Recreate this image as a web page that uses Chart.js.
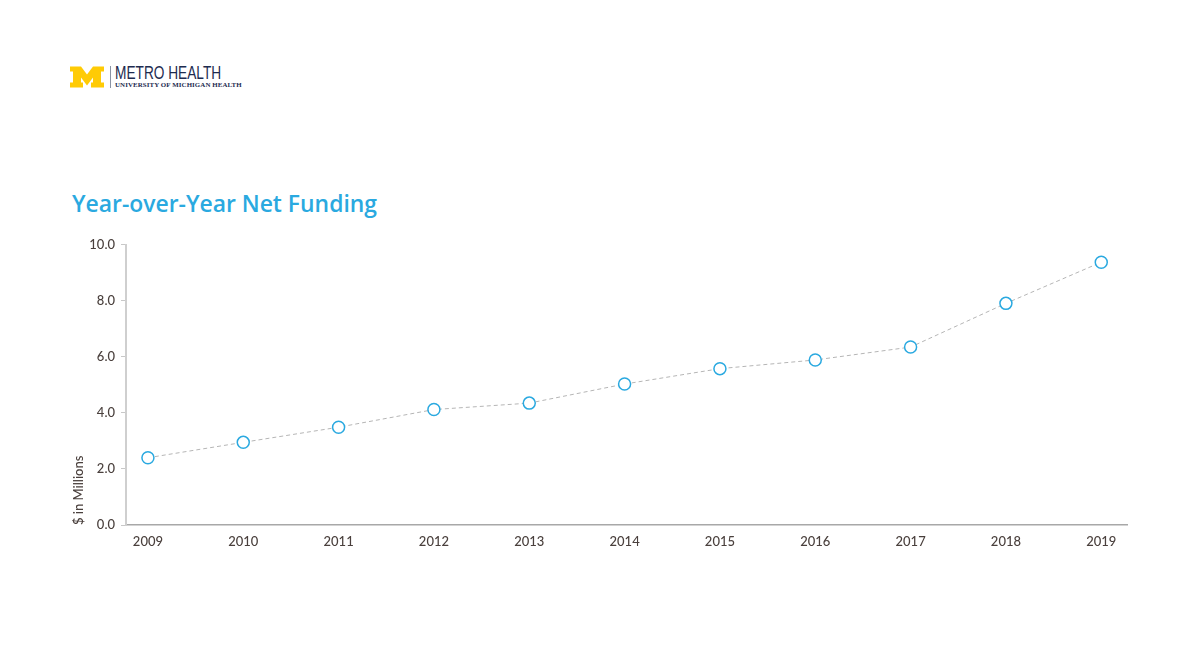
<!DOCTYPE html>
<html>
<head>
<meta charset="utf-8">
<title>Year-over-Year Net Funding</title>
<script src="https://cdn.jsdelivr.net/npm/chart.js@4.4.1/dist/chart.umd.min.js"></script>
<style>
    html, body { margin: 0; padding: 0; background: #fff; }
    body { width: 1200px; height: 659px; position: relative; overflow: hidden; font-family: Lato, "Open Sans", sans-serif; }
    .logo { position: absolute; left: 70px; top: 66px; height: 22px; }
    .logo svg { position: absolute; left: 0; top: 0; }
    .logo .bar { position: absolute; left: 40px; top: 0; width: 1px; height: 22px; background: #8a93a3; }
    .logo .name { position: absolute; left: 45px; top: -3px; font-family: "Liberation Sans", Arial, sans-serif; font-size: 18px; color: #1d2b4f; white-space: nowrap; transform: scaleX(0.76); transform-origin: left top; }
    .logo .sub { position: absolute; left: 45px; top: 15px; font-family: "Liberation Serif", serif; font-weight: bold; font-size: 6.9px; color: #1d2b4f; white-space: nowrap; letter-spacing: 0.1px; }
    h1 { position: absolute; left: 72px; top: 188px; margin: 0; font-family: "Open Sans", sans-serif; font-size: 22.9px; font-weight: 600; color: #2aa9e0; white-space: nowrap; }
    .chart-box { position: absolute; left: 60px; top: 231px; width: 1080px; height: 328px; }
</style>
</head>
<body>
<div class="logo">
    <svg width="34" height="22" viewBox="0 0 34 21">
        <polygon fill="#ffcb05" points="0,0 11,0 17,8 23,0 34,0 34,5 31,5 31,16 34,16 34,21 21,21 21,16 23,16 23,11 17,19 11,11 11,16 13,16 13,21 0,21 0,16 3,16 3,5 0,5"/>
    </svg>
    <div class="bar"></div>
    <div class="name">METRO HEALTH</div>
    <div class="sub">UNIVERSITY OF MICHIGAN HEALTH</div>
</div>

<h1>Year-over-Year Net Funding</h1>

<div class="chart-box">
    <canvas id="fundingChart"></canvas>
</div>

<script>
// Chart data
const years = [2009, 2010, 2011, 2012, 2013, 2014, 2015, 2016, 2017, 2018, 2019];
const netFunding = [2.40, 2.95, 3.49, 4.12, 4.35, 5.03, 5.58, 5.89, 6.35, 7.91, 9.38];
const yTicks = [0, 2, 4, 6, 8, 10];

const textColor = '#4a403d';

const ctx = document.getElementById('fundingChart').getContext('2d');
const chart = new Chart(ctx, {
    type: 'line',
    data: {
        datasets: [{
            label: 'Net Funding',
            data: years.map((y, i) => ({ x: y, y: netFunding[i] })),
            borderColor: '#b5b5b5',
            borderWidth: 1,
            borderDash: [4, 3],
            tension: 0,
            pointRadius: 6,
            pointBorderWidth: 1.5,
            pointBorderColor: '#2aa9e0',
            pointBackgroundColor: '#ffffff'
        }]
    },
    options: {
        responsive: true,
        maintainAspectRatio: false,
        animation: false,
        layout: { padding: { top: 8, right: 13, bottom: 0, left: 0 } },
        plugins: {
            legend: { display: false },
            tooltip: { enabled: false }
        },
        scales: {
            x: {
                type: 'linear',
                min: 2008.77,
                max: 2019.27,
                afterBuildTicks: scale => { scale.ticks = years.map(v => ({ value: v })); },
                afterFit: scale => { scale.height = 34; },
                grid: { drawOnChartArea: false, drawTicks: false },
                border: { color: '#a8a8a8', width: 1.5 },
                ticks: {
                    color: textColor,
                    padding: 9,
                    font: { family: 'Lato', size: 13, weight: '500' },
                    callback: v => String(v)
                }
            },
            y: {
                min: 0,
                max: 10,
                afterBuildTicks: scale => { scale.ticks = yTicks.map(v => ({ value: v })); },
                afterFit: scale => { scale.width = 66; },
                grid: { drawOnChartArea: false, drawTicks: true, tickLength: 5, color: '#c8c8c8' },
                border: { color: '#cfcfcf', width: 2 },
                title: {
                    display: true,
                    text: '$ in Millions',
                    align: 'start',
                    color: textColor,
                    padding: { top: 11, bottom: 0 },
                    font: { family: 'Lato', size: 13, weight: '500' }
                },
                ticks: {
                    color: textColor,
                    padding: 6,
                    font: { family: 'Lato', size: 13, weight: '500' },
                    callback: v => Number(v).toFixed(1)
                }
            }
        }
    }
});
</script>
</body>
</html>
